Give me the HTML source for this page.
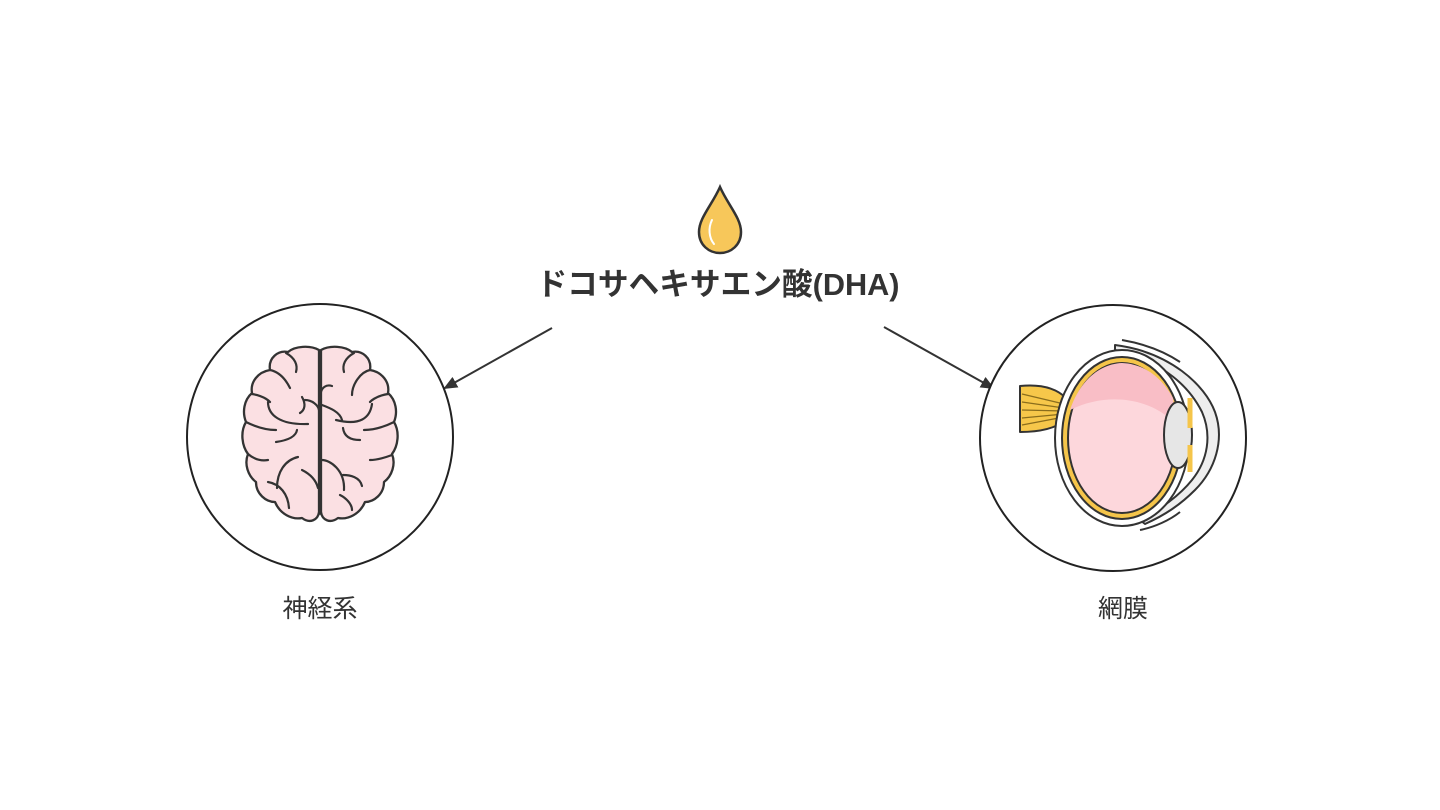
<!DOCTYPE html>
<html><head><meta charset="utf-8"><style>
html,body{margin:0;padding:0;background:#fff;}
svg{display:block;}
</style></head><body>
<svg width="1440" height="810" viewBox="0 0 1440 810" xmlns="http://www.w3.org/2000/svg">
<defs>
<marker id="ah" markerWidth="14" markerHeight="12" refX="12" refY="6" orient="auto" markerUnits="userSpaceOnUse">
<path d="M0,0 L14,6 L0,12 z" fill="#333"/>
</marker>
</defs>
<rect width="1440" height="810" fill="#fff"/>
<!-- drop -->
<path d="M720,187 C712,205 699,218 699,232 C699,245 709,253 720,253 C731,253 741,245 741,232 C741,218 728,205 720,187 z" fill="#f7c75a" stroke="#333" stroke-width="2.5"/>
<path d="M712,220 C708,228 709,238 714,244" fill="none" stroke="#fff" stroke-width="2" stroke-linecap="round"/>
<text x="718" y="295" font-family="Liberation Sans, Noto Sans CJK JP, sans-serif" font-weight="bold" font-size="31" fill="#333" text-anchor="middle" textLength="363" lengthAdjust="spacingAndGlyphs">ドコサヘキサエン酸(DHA)</text>
<!-- arrows -->
<line x1="552" y1="328" x2="445" y2="388" stroke="#333" stroke-width="2" marker-end="url(#ah)"/>
<line x1="884" y1="327" x2="993" y2="388" stroke="#333" stroke-width="2" marker-end="url(#ah)"/>
<!-- circles -->
<circle cx="320" cy="437" r="133" fill="#fff" stroke="#222" stroke-width="2"/>
<circle cx="1113" cy="438" r="133" fill="#fff" stroke="#222" stroke-width="2"/>
<!-- brain -->
<g stroke="#333" stroke-width="2.3" fill="#fbe0e3" stroke-linecap="round" stroke-linejoin="round">
<path d="M319,350 C310,345 295,346 288,352 C278,350 268,358 270,370 C258,372 250,382 252,393 C244,400 242,412 246,422 C240,432 242,446 248,454 C244,464 248,476 256,482 C256,494 266,502 275,502 C280,514 292,520 302,518 C310,524 318,520 319,512 z"/>
<path d="M321,350 C330,345 345,346 352,352 C362,350 372,358 370,370 C382,372 390,382 388,393 C396,400 398,412 394,422 C400,432 398,446 392,454 C396,464 392,476 384,482 C384,494 374,502 365,502 C360,514 348,520 338,518 C330,524 322,520 321,512 z"/>
<line x1="320" y1="351" x2="320" y2="514" stroke-width="1.8"/>
</g>
<g stroke="#333" stroke-width="2.2" fill="none" stroke-linecap="round">
<path d="M286,353 C295,358 298,365 296,372"/>
<path d="M270,370 C280,372 286,380 290,388"/>
<path d="M268,402 C268,415 280,425 308,424"/>
<path d="M302,397 C306,404 305,410 300,413"/>
<path d="M252,394 C265,396 270,402 270,402"/>
<path d="M246,422 C258,428 268,430 276,430"/>
<path d="M276,442 C290,440 296,436 297,430"/>
<path d="M248,454 C255,460 262,461 268,460"/>
<path d="M298,457 C285,460 277,472 277,488"/>
<path d="M268,482 C280,484 288,494 289,508"/>
<path d="M302,470 C310,474 316,480 318,488"/>
<path d="M305,400 C312,400 318,405 319,410"/>
<path d="M354,353 C345,358 342,365 344,372"/>
<path d="M370,370 C360,372 352,385 352,395"/>
<path d="M372,404 C370,418 360,426 336,420"/>
<path d="M332,386 C326,384 322,388 321,392"/>
<path d="M388,394 C375,396 370,402 370,402"/>
<path d="M394,422 C382,428 372,430 364,430"/>
<path d="M360,440 C350,440 344,436 343,428"/>
<path d="M392,455 C384,458 376,460 370,460"/>
<path d="M322,460 C330,460 345,470 344,490"/>
<path d="M343,475 C350,475 360,477 362,486"/>
<path d="M340,495 C346,498 352,504 352,510"/>
<path d="M322,405 C330,408 340,412 342,420"/>
</g>
<!-- eye -->
<g stroke="#333" stroke-width="2" stroke-linejoin="round">
<!-- cornea / outer sheath -->
<path d="M1115,345 C1170,352 1205,385 1215,412 C1225,440 1215,470 1195,490 C1180,505 1165,515 1145,524 L1140,520 C1160,510 1180,495 1192,480 C1208,460 1212,435 1202,412 C1190,388 1165,362 1115,350 z" fill="#eee"/>
<path d="M1122,340 C1145,344 1165,352 1180,362" fill="none"/>
<path d="M1140,530 C1155,527 1170,520 1180,512" fill="none"/>
<!-- nerve bundle -->
<path d="M1020,386 C1040,384 1056,388 1066,398 L1066,420 C1056,428 1040,432 1020,432 z" fill="#f6c74a"/>
<g stroke="#8a6d1c" stroke-width="1.3"><line x1="1022" y1="394" x2="1064" y2="404"/><line x1="1022" y1="402" x2="1064" y2="408"/><line x1="1022" y1="410" x2="1064" y2="411"/><line x1="1022" y1="418" x2="1064" y2="414"/><line x1="1022" y1="425" x2="1064" y2="417"/></g>
<!-- sclera gap -->
<ellipse cx="1122" cy="438" rx="67" ry="88" fill="#fff"/>
<ellipse cx="1122" cy="438" rx="60" ry="81" fill="#f5c54a"/>
<ellipse cx="1122" cy="438" rx="54" ry="75" fill="#fdd7dc"/>
<path d="M1070,410 C1080,380 1100,364 1122,363 C1145,364 1162,378 1173,398 L1176,425 C1155,400 1110,390 1070,410 z" fill="#f9bec6" stroke="none"/>
<ellipse cx="1178" cy="435" rx="14" ry="33" fill="#e6e6e6"/>
<path d="M1190,398 L1190,428 M1190,445 L1190,472" stroke="#f5c54a" stroke-width="5"/>
</g>
<!-- labels -->
<text x="320" y="617" font-family="Liberation Sans, Noto Sans CJK JP, sans-serif" font-size="25" fill="#333" text-anchor="middle">神経系</text>
<text x="1123" y="617" font-family="Liberation Sans, Noto Sans CJK JP, sans-serif" font-size="25" fill="#333" text-anchor="middle">網膜</text>
</svg>
</body></html>
